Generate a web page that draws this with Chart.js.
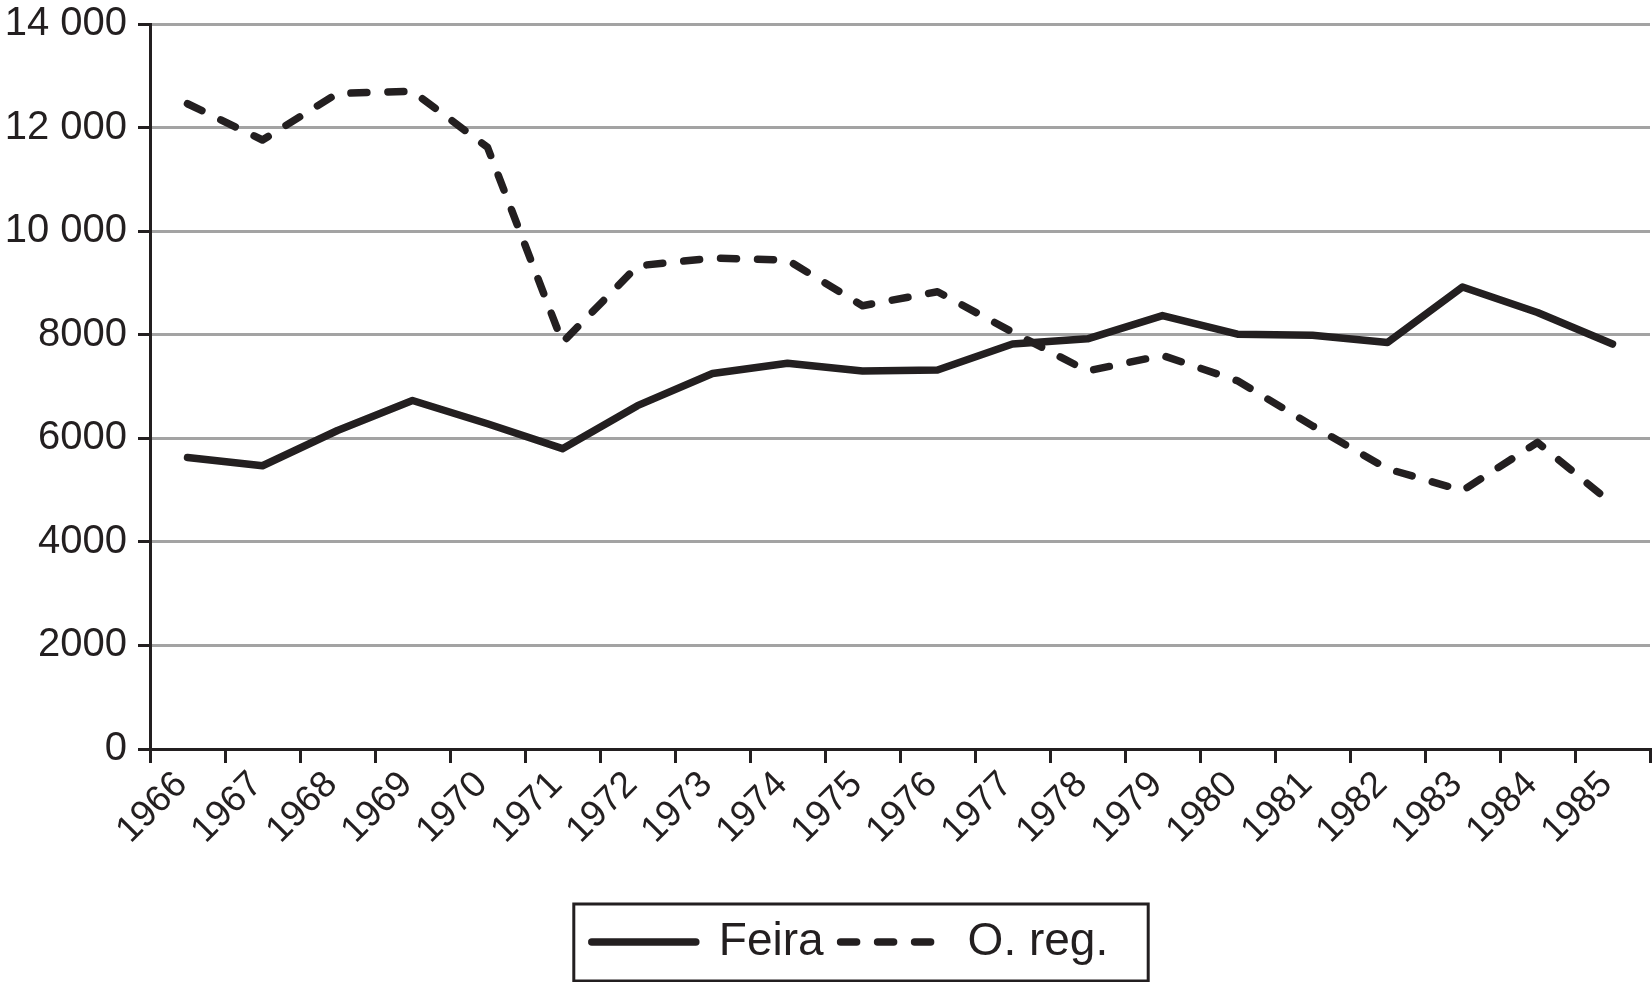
<!DOCTYPE html>
<html>
<head>
<meta charset="utf-8">
<title>Feira / O. reg.</title>
<script src="https://cdn.jsdelivr.net/npm/chart.js@4.4.1/dist/chart.umd.min.js"></script>
<style>
    html, body { margin: 0; padding: 0; background: #fff; }
    #wrap { width: 1652px; height: 982px; position: relative; }
</style>
</head>
<body>
<div id="wrap"><canvas id="lineChart"></canvas></div>
<script>
const years = ['1966', '1967', '1968', '1969', '1970', '1971', '1972', '1973', '1974', '1975',
               '1976', '1977', '1978', '1979', '1980', '1981', '1982', '1983', '1984', '1985'];
const feira = [5630, 5470, 6150, 6730, 6280, 5800, 6630, 7250, 7450, 7300,
               7320, 7820, 7920, 8370, 8010, 7990, 7850, 8920, 8430, 7820];
const oReg  = [12460, 11760, 12660, 12700, 11620, 7850, 9330, 9480, 9440, 8560,
               8830, 8050, 7300, 7600, 7110, 6240, 5410, 4990, 5920, 4730];
const yTicks = [0, 2000, 4000, 6000, 8000, 10000, 12000, 14000];

const ink = '#231f20';
const fontFamily = '"Liberation Sans", Arial, Helvetica, sans-serif';
const lineW = 7.5;
const dash = [16, 21];

// thousands with a space only for five digits, as in the original
function fmt(v) {
    if (v >= 10000) {
        const s = String(v);
        return s.slice(0, s.length - 3) + ' ' + s.slice(-3);
    }
    return String(v);
}

// legend sits a little right of the page centre; frame drawn round it
const legendFrame = {
    id: 'legendFrame',
    afterLayout(chart) {
        const lg = chart.legend;
        if (!lg) return;
        lg.left += 25;
        lg.right += 25;
    },
    afterDraw(chart) {
        const boxes = chart.legend && chart.legend.legendHitBoxes;
        if (!boxes || !boxes.length) return;
        const first = boxes[0];
        const last = boxes[boxes.length - 1];
        const cy = first.top + first.height / 2;
        const ctx = chart.ctx;
        ctx.save();
        ctx.strokeStyle = ink;
        ctx.lineWidth = 3;
        ctx.strokeRect(first.left - 18, cy - 38, (last.left + last.width + 40) - (first.left - 18), 77);
        ctx.restore();
    }
};

const ctx = document.getElementById('lineChart').getContext('2d');
new Chart(ctx, {
    type: 'line',
    data: {
        labels: years,
        datasets: [{
            label: 'Feira',
            data: feira,
            borderColor: ink,
            backgroundColor: ink,
            borderWidth: lineW,
            borderJoinStyle: 'round',
            borderCapStyle: 'round',
            pointRadius: 0,
            tension: 0
        }, {
            label: 'O. reg.',
            data: oReg,
            borderColor: ink,
            backgroundColor: ink,
            borderWidth: lineW,
            borderDash: dash,
            borderJoinStyle: 'round',
            borderCapStyle: 'round',
            pointRadius: 0,
            tension: 0
        }]
    },
    options: {
        responsive: true,
        maintainAspectRatio: false,
        animation: false,
        layout: { padding: { left: 0, right: 2, top: 24, bottom: 7 } },
        plugins: {
            title: { display: false },
            tooltip: { enabled: false },
            legend: {
                display: true,
                position: 'bottom',
                labels: {
                    usePointStyle: true,
                    pointStyle: 'line',
                    pointStyleWidth: 104,
                    boxHeight: 8,
                    padding: 17,
                    color: ink,
                    font: { family: fontFamily, size: 46 },
                    generateLabels(chart) {
                        const items = Chart.defaults.plugins.legend.labels.generateLabels(chart);
                        return items.map((it, i) => Object.assign(it, {
                            lineWidth: lineW,
                            lineCap: 'round',
                            lineDash: i === 1 ? dash : [],
                            strokeStyle: ink,
                            pointStyle: 'line'
                        }));
                    }
                }
            }
        },
        scales: {
            x: {
                offset: true,
                grid: {
                    display: true,
                    offset: true,
                    drawOnChartArea: false,
                    drawTicks: true,
                    tickLength: 14,
                    color: ink,
                    lineWidth: 3
                },
                border: { display: true, color: ink, width: 3 },
                ticks: {
                    autoSkip: false,
                    maxRotation: 45,
                    minRotation: 45,
                    padding: 0,
                    labelOffset: -6,
                    color: ink,
                    font: { family: fontFamily, size: 37 }
                },
                afterFit(scale) { scale.height = 982 - 7 - 73 - 749; }
            },
            y: {
                min: 0,
                max: 14000,
                afterBuildTicks(scale) { scale.ticks = yTicks.map(v => ({ value: v })); },
                grid: {
                    color: '#a3a3a3',
                    lineWidth: 3,
                    drawTicks: true,
                    tickLength: 12,
                    tickColor: ink
                },
                border: { display: true, color: ink, width: 3 },
                ticks: {
                    padding: 11,
                    color: ink,
                    font: { family: fontFamily, size: 40 },
                    callback: v => fmt(v)
                },
                afterFit(scale) {
                    scale.width = 150;
                    scale.paddingTop = 0;
                    scale.paddingBottom = 0;
                }
            }
        }
    },
    plugins: [legendFrame]
});
</script>
</body>
</html>
